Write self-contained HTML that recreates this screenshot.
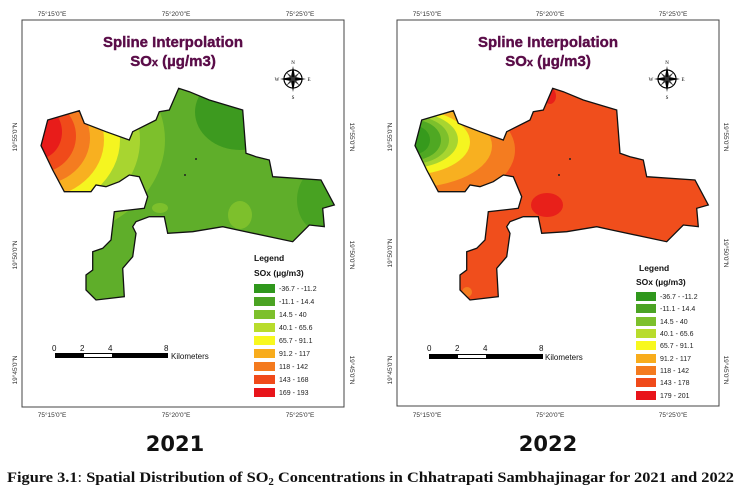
<!DOCTYPE html>
<html><head><meta charset="utf-8"><style>
html,body{margin:0;padding:0;background:#fff;}
svg{display:block;}
.t{font-family:"Liberation Sans",sans-serif;}
</style></head><body>
<svg width="741" height="501" viewBox="0 0 741 501" xmlns="http://www.w3.org/2000/svg">
<defs>
<path id="city" d="M415,145.7 L421.7,120 L453.3,110.7 L458.3,123.3 L480,131.7 L503.3,140 L506.7,131.7 L530,120 L533.3,111.7 L543.3,110 L552.7,88.3 L563.3,91.7 L583.3,100 L616.7,110 L620,153.3 L630,156.7 L643.3,160 L646.7,176.7 L695,180 L708.3,205 L696.7,208.3 L698.3,226.7 L683.3,225 L666.7,241.7 L611.7,230 L596.7,226.7 L566.7,231.7 L541.7,233.3 L538.3,216.7 L523.3,216.7 L510,221.7 L506.7,226.7 L510,233.3 L506.7,256.7 L496.7,268.3 L498.3,296.7 L470,300 L460,290 L460,275 L466.7,270 L466.7,251.7 L476.7,248.3 L485,240 L488.3,211.7 L518.3,208.3 L521.7,196.7 L513.3,176.7 L503.3,175 L493.3,181.7 L480,186.7 L470,185 L465,191.7 L438.3,191.7 L426.7,170 Z"/>
<clipPath id="cR"><use href="#city"/></clipPath>
<clipPath id="cL"><use href="#city" transform="translate(-374,0)"/></clipPath>
<g id="compass">
<circle r="9" fill="none" stroke="#000" stroke-width="1.2"/>
<path d="M0,-13 L2,-2 L13,0 L2,2 L0,13 L-2,2 L-13,0 L-2,-2 Z" fill="#000"/>
<path d="M-7,-7 L1,-1 L7,7 L-1,1 Z M7,-7 L1,1 L-7,7 L-1,-1 Z" fill="#333"/>
<text x="0" y="-15" font-size="5" text-anchor="middle" font-family="Liberation Serif,serif">N</text>
<text x="0" y="20" font-size="5" text-anchor="middle" font-family="Liberation Serif,serif">S</text>
<text x="-16" y="2" font-size="5" text-anchor="middle" font-family="Liberation Serif,serif">W</text>
<text x="16" y="2" font-size="5" text-anchor="middle" font-family="Liberation Serif,serif">E</text>
</g>
</defs>

<rect x="22" y="20" width="322" height="387" fill="#fff" stroke="#444" stroke-width="1"/>
<rect x="397" y="20" width="322" height="386" fill="#fff" stroke="#444" stroke-width="1"/>

<!-- LEFT MAP 2021 -->
<g clip-path="url(#cL)">
<rect x="20" y="80" width="340" height="230" fill="#5fae2a"/>
<ellipse cx="240" cy="112" rx="45" ry="38" fill="#3d9a1f"/>
<ellipse cx="322" cy="200" rx="25" ry="32" fill="#48a222"/>
<ellipse cx="240" cy="215" rx="12" ry="14" fill="#7dc02c"/>
<ellipse cx="160" cy="208" rx="8" ry="5" fill="#7dc02c"/>
<ellipse cx="40" cy="140" rx="125" ry="100" fill="#7dc02c"/>
<ellipse cx="40" cy="140" rx="100" ry="85" fill="#a8d530"/>
<ellipse cx="38" cy="140" rx="82" ry="70" fill="#f5f520"/>
<ellipse cx="38" cy="140" rx="66" ry="58" fill="#f8b020"/>
<ellipse cx="38" cy="138" rx="52" ry="47" fill="#f47c20"/>
<ellipse cx="38" cy="136" rx="38" ry="37" fill="#f04a1a"/>
<ellipse cx="38" cy="132" rx="24" ry="27" fill="#e81c1a"/>
</g>
<use href="#city" transform="translate(-374,0)" fill="none" stroke="#111" stroke-width="1.3"/>
<circle cx="196" cy="159" r="1" fill="#222"/><circle cx="185" cy="175" r="1" fill="#222"/>

<!-- RIGHT MAP 2022 -->
<g clip-path="url(#cR)">
<rect x="400" y="80" width="320" height="230" fill="#f04e1c"/>
<ellipse cx="550" cy="96" rx="6" ry="8" fill="#e8201a"/>
<ellipse cx="547" cy="205" rx="16" ry="12" fill="#e8201a"/>
<ellipse cx="467" cy="292" rx="5" ry="5" fill="#f47c20"/>
<ellipse cx="410" cy="150" rx="105" ry="58" fill="#f47c20"/>
<ellipse cx="408" cy="146" rx="84" ry="42" fill="#f8b020"/>
<ellipse cx="408" cy="142" rx="62" ry="33" fill="#f5f520"/>
<ellipse cx="410" cy="140" rx="48" ry="28" fill="#a8d530"/>
<ellipse cx="412" cy="140" rx="37" ry="24" fill="#7dc02c"/>
<ellipse cx="414" cy="140" rx="27" ry="20" fill="#4fa823"/>
<ellipse cx="415" cy="140" rx="15" ry="14" fill="#369a1c"/>
</g>
<use href="#city" fill="none" stroke="#111" stroke-width="1.3"/>
<circle cx="570" cy="159" r="1" fill="#222"/><circle cx="559" cy="175" r="1" fill="#222"/>

<g class="t" font-weight="bold" fill="#5a0c48" text-anchor="middle" stroke="#5a0c48" stroke-width="0.4">
<text x="173" y="47" font-size="15">Spline Interpolation</text>
<text x="173" y="66" font-size="15">SO<tspan font-size="11">x</tspan> (µg/m3)</text>
<text x="548" y="47" font-size="15">Spline Interpolation</text>
<text x="548" y="66" font-size="15">SO<tspan font-size="11">x</tspan> (µg/m3)</text>
</g>
<use href="#compass" transform="translate(293,79)"/>
<use href="#compass" transform="translate(667,79)"/>

<g class="t" font-size="6.5" fill="#333" text-anchor="middle">
<text x="52" y="16">75°15'0"E</text><text x="176" y="16">75°20'0"E</text><text x="300" y="16">75°25'0"E</text>
<text x="52" y="417">75°15'0"E</text><text x="176" y="417">75°20'0"E</text><text x="300" y="417">75°25'0"E</text>
<text x="427" y="16">75°15'0"E</text><text x="550" y="16">75°20'0"E</text><text x="673" y="16">75°25'0"E</text>
<text x="427" y="417">75°15'0"E</text><text x="550" y="417">75°20'0"E</text><text x="673" y="417">75°25'0"E</text>
<text transform="translate(17,137) rotate(-90)">19°55'0"N</text>
<text transform="translate(17,255) rotate(-90)">19°50'0"N</text>
<text transform="translate(17,370) rotate(-90)">19°45'0"N</text>
<text transform="translate(350,137) rotate(90)">19°55'0"N</text>
<text transform="translate(350,255) rotate(90)">19°50'0"N</text>
<text transform="translate(350,370) rotate(90)">19°45'0"N</text>
<text transform="translate(392,137) rotate(-90)">19°55'0"N</text>
<text transform="translate(392,253) rotate(-90)">19°50'0"N</text>
<text transform="translate(392,370) rotate(-90)">19°45'0"N</text>
<text transform="translate(724,137) rotate(90)">19°55'0"N</text>
<text transform="translate(724,253) rotate(90)">19°50'0"N</text>
<text transform="translate(724,370) rotate(90)">19°45'0"N</text>
</g>

<g class="t" font-size="8.5" font-weight="bold" fill="#111">
<text x="254" y="261">Legend</text><text x="254" y="276">SOx (µg/m3)</text>
<text x="639" y="271">Legend</text><text x="636" y="285">SOx (µg/m3)</text>
</g>
<g class="t" font-size="7" fill="#222">
<rect x="254" y="284" width="21" height="9" fill="#2f971c"/><text x="279" y="291">-36.7 - -11.2</text>
<rect x="254" y="297" width="21" height="9" fill="#4ba323"/><text x="279" y="304">-11.1 - 14.4</text>
<rect x="254" y="310" width="21" height="9" fill="#7dc02c"/><text x="279" y="317">14.5 - 40</text>
<rect x="254" y="323" width="21" height="9" fill="#b8dc2c"/><text x="279" y="330">40.1 - 65.6</text>
<rect x="254" y="336" width="21" height="9" fill="#f8f81e"/><text x="279" y="343">65.7 - 91.1</text>
<rect x="254" y="349" width="21" height="9" fill="#f8ac1c"/><text x="279" y="356">91.2 - 117</text>
<rect x="254" y="362" width="21" height="9" fill="#f47a1e"/><text x="279" y="369">118 - 142</text>
<rect x="254" y="375" width="21" height="9" fill="#f04a1a"/><text x="279" y="382">143 - 168</text>
<rect x="254" y="388" width="21" height="9" fill="#e8141a"/><text x="279" y="395">169 - 193</text>

<rect x="636" y="292" width="20" height="9" fill="#2f971c"/><text x="660" y="299">-36.7 - -11.2</text>
<rect x="636" y="304" width="20" height="9" fill="#4ba323"/><text x="660" y="311">-11.1 - 14.4</text>
<rect x="636" y="317" width="20" height="9" fill="#7dc02c"/><text x="660" y="324">14.5 - 40</text>
<rect x="636" y="329" width="20" height="9" fill="#b8dc2c"/><text x="660" y="336">40.1 - 65.6</text>
<rect x="636" y="341" width="20" height="9" fill="#f8f81e"/><text x="660" y="348">65.7 - 91.1</text>
<rect x="636" y="354" width="20" height="9" fill="#f8ac1c"/><text x="660" y="361">91.2 - 117</text>
<rect x="636" y="366" width="20" height="9" fill="#f47a1e"/><text x="660" y="373">118 - 142</text>
<rect x="636" y="378" width="20" height="9" fill="#f04a1a"/><text x="660" y="385">143 - 178</text>
<rect x="636" y="391" width="20" height="9" fill="#e8141a"/><text x="660" y="398">179 - 201</text>
</g>

<g class="t" font-size="8" fill="#111">
<rect x="55" y="353" width="113" height="5" fill="#000"/>
<rect x="84" y="354" width="28" height="3" fill="#fff"/>
<text x="52" y="351">0</text><text x="80" y="351">2</text><text x="108" y="351">4</text><text x="164" y="351">8</text>
<text x="171" y="359">Kilometers</text>
<rect x="429" y="354" width="114" height="5" fill="#000"/>
<rect x="458" y="355" width="28" height="3" fill="#fff"/>
<text x="427" y="351">0</text><text x="455" y="351">2</text><text x="483" y="351">4</text><text x="539" y="351">8</text>
<text x="545" y="360">Kilometers</text>
</g>

<g font-family="'DejaVu Sans',sans-serif" font-weight="bold" font-size="21" fill="#111" text-anchor="middle">
<text x="175" y="451">2021</text><text x="548" y="451">2022</text>
</g>
<text x="7" y="482" font-family="'Liberation Serif',serif" font-weight="bold" font-size="15" fill="#111" textLength="727" lengthAdjust="spacingAndGlyphs">Figure 3.1<tspan font-weight="normal">:</tspan> Spatial Distribution of SO<tspan font-size="10" dy="3">2</tspan><tspan dy="-3"> Concentrations in Chhatrapati Sambhajinagar for 2021 and 2022</tspan></text>
</svg>
</body></html>
